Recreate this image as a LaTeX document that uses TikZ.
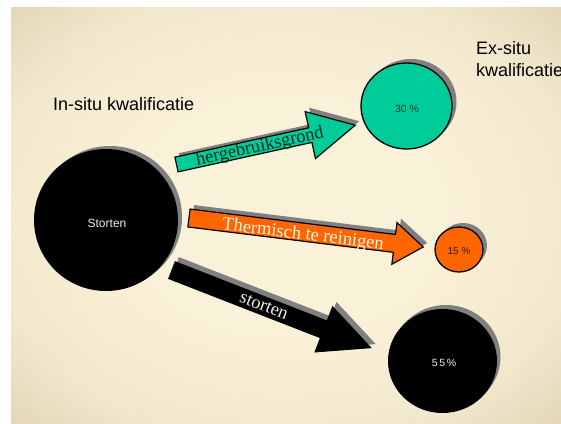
\documentclass[tikz,border=0pt]{standalone}
\usepackage{fontspec}
\setmainfont{Liberation Serif}
\newfontfamily\sansf{Liberation Sans}
\usetikzlibrary{shapes.geometric}
\definecolor{bgin}{RGB}{250,241,217}
\definecolor{bgmid}{RGB}{242,232,205}
\definecolor{bgmid2}{RGB}{226,214,182}
\definecolor{bgout}{RGB}{210,197,161}
\definecolor{bgcorner}{RGB}{200,186,148}
\definecolor{tealg}{RGB}{0,204,153}
\definecolor{orng}{RGB}{255,102,0}
\definecolor{shgray}{RGB}{128,128,128}
\definecolor{hgtext}{RGB}{5,45,30}
\definecolor{lighttext}{RGB}{235,235,235}
\definecolor{creamtext}{RGB}{255,246,228}
\definecolor{darkgr}{RGB}{25,55,45}
\definecolor{darkbr}{RGB}{60,25,0}
\pgfdeclareradialshading{bgshade}{\pgfpoint{0bp}{0bp}}{color(0bp)=(bgin); color(14bp)=(bgin); color(27bp)=(bgmid); color(36bp)=(bgmid2); color(43bp)=(bgout); color(55bp)=(bgcorner); color(75bp)=(bgcorner)}
\begin{document}
\begin{tikzpicture}[x=1pt,y=-1pt,
  arrowpath/.style n args={4}{insert path={(0,-#1/2) -- (#3,-#1/2) -- (#3,-#2/2) -- (#4,0) -- (#3,#2/2) -- (#3,#1/2) -- (0,#1/2) -- cycle}},
  ell/.style={ellipse, inner sep=0pt},
  outl/.style={draw=black, line width=1.3pt},
  bigtext/.style={inner sep=0pt, font=\sansf\fontsize{18}{21}\selectfont},
  arrtext/.style={inner sep=0pt, font=\fontsize{18.5}{20}\selectfont},
  circtext/.style={inner sep=0pt, font=\sansf\fontsize{10.5}{12}\selectfont},
]
\useasboundingbox (0,0) rectangle (561,423);
\fill[white] (0,0) rectangle (561,423);
\shade[shading=bgshade] (11,7) rectangle (561,423);

% titles
\node[bigtext, anchor=base west] (insitu) at (53,110) {In-situ kwalificatie};
\node[bigtext, anchor=base west] (exsitu1) at (476,54) {Ex-situ};
\node[bigtext, anchor=base west] (exsitu2) at (476,76) {kwalificatie};

% circles: shadows
\fill[shgray] (110,217) ellipse [x radius=72, y radius=71];
\fill[shgray] (411,102) ellipse [x radius=45.5, y radius=43];
\fill[shgray] (463,245.5) ellipse [x radius=24, y radius=22.5];
\fill[shgray] (446,357) ellipse [x radius=54.5, y radius=52];

% circles
\node[ell, fill=black, minimum width=144pt, minimum height=142pt] (storten) at (106,220) {};
\node[circtext, text=lighttext, font=\sansf\fontsize{12}{14}\selectfont] (stortenlbl) at (107,223) {Storten};
\node[ell, fill=tealg, outl, minimum width=91pt, minimum height=86pt] (c30) at (406.5,106) {};
\node[circtext, text=darkgr] (c30lbl) at (407,109) {30 \%};
\node[ell, fill=orng, outl, minimum width=48pt, minimum height=45pt] (c15) at (459,249.5) {};
\node[circtext, text=darkbr, font=\sansf\fontsize{10}{12}\selectfont] (c15lbl) at (459,251) {15 \%};
\node[ell, fill=black, minimum width=109pt, minimum height=104pt] (c55) at (442.5,361) {};
\node[circtext, text=lighttext] (c55lbl) at (444,363) {5\hspace{1.6pt}5\hspace{1.6pt}\%};

% green arrow
\begin{scope}[shift={(180.5,160.5)}, rotate=12.4]
  \fill[shgray, arrowpath={15}{48}{137}{183}];
\end{scope}
\begin{scope}[shift={(176.5,164.5)}, rotate=12.4]
  \draw[fill=tealg, line width=1.2pt, line join=miter, arrowpath={15}{48}{137}{183}];
\end{scope}
\node[arrtext, rotate=12.4, text=hgtext] (hglbl) at (260,147) {hergebruiksgrond};

% orange arrow
\begin{scope}[shift={(193,214)}, rotate=-7.05]
  \fill[shgray, arrowpath={18}{42}{207}{236}];
\end{scope}
\begin{scope}[shift={(189,218)}, rotate=-7.05]
  \draw[fill=orng, line width=1.2pt, line join=miter, arrowpath={18}{42}{207}{236}];
\end{scope}
\node[arrtext, rotate=-7, text=creamtext] (thlbl) at (303,235) {Thermisch te reinigen};

% black arrow
\begin{scope}[shift={(175.5,266)}, rotate=-21.3]
  \fill[shgray, arrowpath={19}{50}{163}{215}];
\end{scope}
\begin{scope}[shift={(171.5,270)}, rotate=-21.3]
  \fill[black, arrowpath={19}{50}{163}{215}];
\end{scope}
\node[arrtext, rotate=-21.3, text=lighttext] (stlbl) at (264,306) {storten};
\end{tikzpicture}
\end{document}
